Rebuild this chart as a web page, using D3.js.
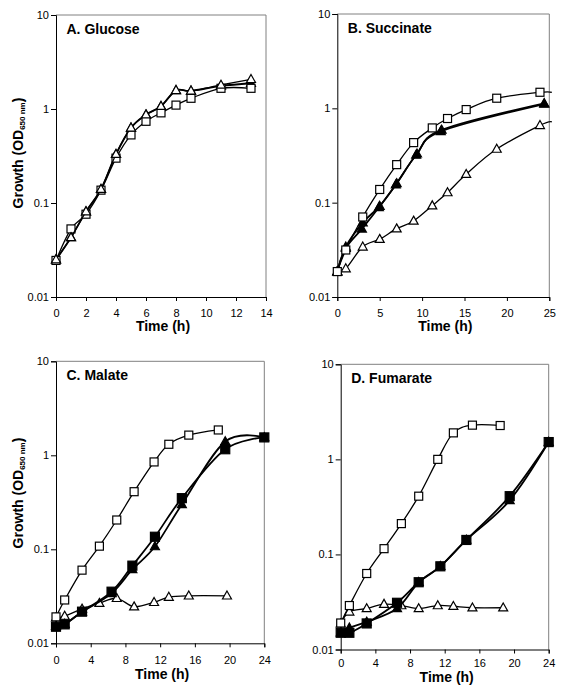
<!DOCTYPE html>
<html>
<head>
<meta charset="utf-8">
<script src="https://cdn.jsdelivr.net/npm/d3@7"></script>
<style>
  html, body { margin: 0; padding: 0; background: #fff; }
  svg { display: block; font-family: "Liberation Sans", Arial, Helvetica, sans-serif; }
</style>
</head>
<body>
<svg id="chart" width="562" height="692"></svg>
<script>
// ---------- data ----------
const yTicks = [0.01, 0.1, 1, 10];
const yTickLabels = ["0.01", "0.1", "1", "10"];
const aXTicks = [0, 2, 4, 6, 8, 10, 12, 14];
const bXTicks = [0, 5, 10, 15, 20, 25];
const cXTicks = [0, 4, 8, 12, 16, 20, 24];
const dXTicks = [0, 4, 8, 12, 16, 20, 24];

// A. Glucose
const aTime     = [0, 1, 2, 3, 4, 5, 6, 7, 8, 9, 11, 13];
const aOpenSq   = [0.0245, 0.053, 0.076, 0.137, 0.30, 0.53, 0.74, 0.91, 1.10, 1.30, 1.66, 1.66];
const aOpenTri  = [0.025, 0.043, 0.081, 0.14, 0.33, 0.63, 0.87, 1.07, 1.58, 1.56, 1.80, 2.07];
const aFillTri  = [0.025, 0.043, 0.081, 0.14, 0.33, 0.63, 0.87, 1.07, 1.58, 1.56, 1.76, 1.88];

// B. Succinate
const bTimeOpen  = [0, 1, 3, 5, 7, 9, 11.2, 13, 15.2, 18.8, 23.9, 25.3];
const bOpenSq    = [0.0186, 0.0315, 0.0705, 0.138, 0.253, 0.433, 0.62, 0.78, 0.97, 1.28, 1.48, 1.48];
const bOpenTri   = [0.0186, 0.020, 0.034, 0.041, 0.053, 0.064, 0.093, 0.128, 0.20, 0.37, 0.66, 0.72];
const bTimeFill1 = [0, 1, 3, 5, 7, 9.4, 12.3, 24.4];
const bFillTri1  = [0.0186, 0.034, 0.0615, 0.092, 0.16, 0.33, 0.59, 1.13];
const bTimeFill2 = [0, 1, 2.9, 4.9, 6.9, 9.3, 12.2, 24.4];
const bFillTri2  = [0.0186, 0.033, 0.0528, 0.089, 0.155, 0.32, 0.57, 1.11];

// C. Malate
const cTimeOpenSq  = [0, 1, 3, 5, 7, 9, 11.3, 13, 15.3, 18.7];
const cOpenSq      = [0.0191, 0.0289, 0.060, 0.108, 0.205, 0.41, 0.85, 1.31, 1.64, 1.86];
const cTimeOpenTri = [0, 1, 3, 5, 7, 9, 11.3, 13, 15.3, 19.7];
const cOpenTri     = [0.0187, 0.0195, 0.0232, 0.0267, 0.0301, 0.0245, 0.0273, 0.031, 0.032, 0.032];
const cTimeFill    = [0, 1, 3, 6.4, 8.8, 11.4, 14.5, 19.5, 24];
const cFillSq      = [0.0150, 0.0159, 0.0217, 0.0354, 0.067, 0.136, 0.35, 1.16, 1.55];
const cFillTri     = [0.0152, 0.016, 0.0215, 0.034, 0.061, 0.107, 0.30, 1.40, 1.55];

// D. Fumarate
const dTimeOpenSq  = [0, 1, 3, 5, 7, 9, 11.2, 13, 15.2, 18.4];
const dOpenSq      = [0.019, 0.029, 0.063, 0.115, 0.211, 0.41, 1.0, 1.90, 2.29, 2.27];
const dTimeOpenTri = [0, 1, 3, 5, 7, 9, 11.2, 13, 15.2, 18.75];
const dOpenTri     = [0.0187, 0.0249, 0.027, 0.030, 0.029, 0.027, 0.029, 0.0285, 0.0275, 0.0275];
const dTimeFill    = [0, 1, 3, 6.5, 9, 11.5, 14.5, 19.5, 24];
const dFillSq      = [0.015, 0.015, 0.0188, 0.031, 0.051, 0.075, 0.142, 0.41, 1.52];
const dFillTri     = [0.015, 0.0169, 0.0195, 0.027, 0.051, 0.075, 0.142, 0.37, 1.52];

// ---------- layout ----------
const panels = [
  { title: "A. Glucose", left: 56, right: 266, top: 15, bottom: 297, xMax: 14, xTicks: aXTicks,
    tickGap: 19, labelGap: 34, yLabel: true, yLabelCy: 153,
    series: [
      { t: aTime, v: aFillTri, m: "tri", fill: true },
      { t: aTime, v: aOpenSq, m: "sq", fill: false },
      { t: aTime, v: aOpenTri, m: "tri", fill: false }
    ] },
  { title: "B. Succinate", left: 337.3, right: 549.3, top: 14, bottom: 297, xMax: 25, xTicks: bXTicks,
    tickGap: 19, labelGap: 34, yLabel: false, clipExtra: 3,
    series: [
      { t: bTimeFill2, v: bFillTri2, m: "tri", fill: true },
      { t: bTimeFill1, v: bFillTri1, m: "tri", fill: true },
      { t: bTimeOpen, v: bOpenTri, m: "tri", fill: false },
      { t: bTimeOpen, v: bOpenSq, m: "sq", fill: false }
    ] },
  { title: "C. Malate", left: 56, right: 264.3, top: 361.3, bottom: 643.3, xMax: 24, xTicks: cXTicks,
    tickGap: 20, labelGap: 36, yLabel: true, yLabelCy: 493,
    series: [
      { t: cTimeOpenTri, v: cOpenTri, m: "tri", fill: false },
      { t: cTimeOpenSq, v: cOpenSq, m: "sq", fill: false },
      { t: cTimeFill, v: cFillTri, m: "tri", fill: true },
      { t: cTimeFill, v: cFillSq, m: "sq", fill: true }
    ] },
  { title: "D. Fumarate", left: 340.7, right: 548.7, top: 364.3, bottom: 649.5, xMax: 24, xTicks: dXTicks,
    tickGap: 16.5, labelGap: 32.5, yLabel: false,
    series: [
      { t: dTimeOpenTri, v: dOpenTri, m: "tri", fill: false },
      { t: dTimeOpenSq, v: dOpenSq, m: "sq", fill: false },
      { t: dTimeFill, v: dFillTri, m: "tri", fill: true },
      { t: dTimeFill, v: dFillSq, m: "sq", fill: true }
    ] }
];

const svg = d3.select("#chart");

panels.forEach((p, pi) => {
  const x = d3.scaleLinear().domain([0, p.xMax]).range([p.left, p.right]);
  const y = d3.scaleLog().domain([0.01, 10]).range([p.bottom, p.top]);
  const g = svg.append("g");

  // frame (top/right)
  g.append("line").attr("x1", p.left).attr("x2", p.right).attr("y1", p.top).attr("y2", p.top)
    .attr("stroke", "#808080").attr("stroke-width", 1);
  g.append("line").attr("x1", p.right).attr("x2", p.right).attr("y1", p.top).attr("y2", p.bottom)
    .attr("stroke", "#808080").attr("stroke-width", 1);

  // y axis
  const yAxis = d3.axisLeft(y).tickValues(yTicks)
    .tickFormat((d, i) => yTickLabels[i]).tickSize(5).tickPadding(2);
  const ya = g.append("g").attr("transform", `translate(${p.left},0)`).call(yAxis);
  // x axis
  const xAxis = d3.axisBottom(x).tickValues(p.xTicks).tickFormat(d3.format("d")).tickSize(4).tickPadding(p.tickGap - 11);
  const xa = g.append("g").attr("transform", `translate(0,${p.bottom})`).call(xAxis);
  [ya, xa].forEach(a => {
    a.select(".domain").attr("stroke", "#000").attr("stroke-width", 1);
    a.selectAll(".tick line").attr("stroke", "#000");
    a.selectAll(".tick text").attr("font-size", 11).attr("fill", "#000")
      .attr("font-family", "'Liberation Sans', Arial, sans-serif");
  });

  // title
  g.append("text").attr("x", p.left + 10.5).attr("y", p.top + 18.5)
    .attr("font-size", 14).attr("font-weight", "bold").text(p.title);

  // x label
  g.append("text").attr("x", (p.left + p.right) / 2 + 2).attr("y", p.bottom + p.labelGap)
    .attr("text-anchor", "middle").attr("font-size", 14).attr("font-weight", "bold").text("Time (h)");

  // y label
  if (p.yLabel) {
    const t = g.append("text")
      .attr("transform", `translate(22.5,${p.yLabelCy}) rotate(-90)`)
      .attr("text-anchor", "middle").attr("font-size", 14).attr("font-weight", "bold");
    t.append("tspan").text("Growth (OD");
    t.append("tspan").attr("font-size", 8).attr("dy", 2.5).text("650 nm");
    t.append("tspan").attr("dy", -2.5).text(")");
  }

  // clip
  const clipId = "clip" + pi;
  const extra = p.clipExtra || 0;
  svg.append("clipPath").attr("id", clipId).append("rect")
    .attr("x", p.left).attr("y", p.top).attr("width", p.right - p.left + extra).attr("height", p.bottom - p.top);

  const line = d3.line().x(d => x(d[0])).y(d => y(d[1])).curve(d3.curveCardinal.tension(0));

  p.series.forEach(s => {
    const pts = s.t.map((tt, i) => [tt, s.v[i]]);
    g.append("path").datum(pts).attr("d", line)
      .attr("fill", "none").attr("stroke", "#000")
      .attr("stroke-width", s.fill ? 1.8 : 1.3)
      .attr("clip-path", `url(#${clipId})`);
    const mk = pts.filter(d => d[0] <= p.xMax);
    if (s.m === "sq") {
      const sz = s.fill ? 9 : 8;
      g.selectAll(null).data(mk).enter().append("rect")
        .attr("x", d => x(d[0]) - sz / 2).attr("y", d => y(d[1]) - sz / 2)
        .attr("width", sz).attr("height", sz)
        .attr("fill", s.fill ? "#000" : "#fff").attr("stroke", "#000").attr("stroke-width", 1.2);
    } else {
      const w = 9, h = 8;
      g.selectAll(null).data(mk).enter().append("path")
        .attr("d", d => {
          const cx = x(d[0]), cy = y(d[1]);
          return `M${cx},${cy - h * 0.6}L${cx + w / 2},${cy + h * 0.4}L${cx - w / 2},${cy + h * 0.4}Z`;
        })
        .attr("fill", s.fill ? "#000" : "#fff").attr("stroke", "#000").attr("stroke-width", 1.2);
    }
  });
});
</script>
</body>
</html>
